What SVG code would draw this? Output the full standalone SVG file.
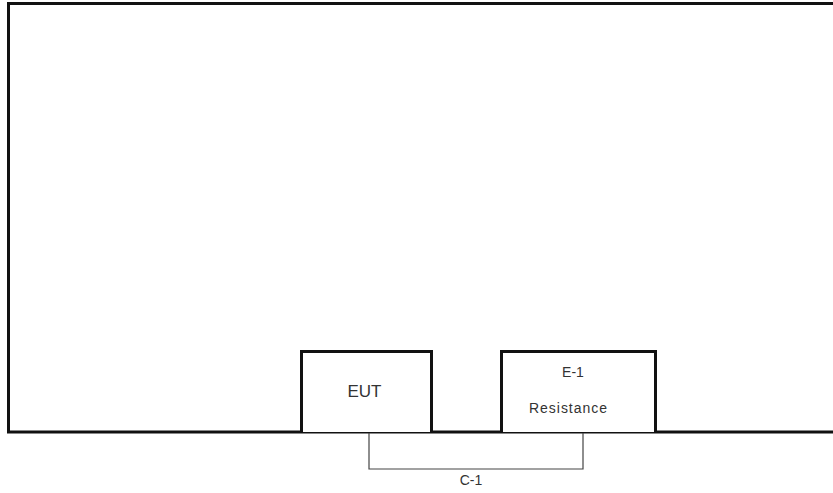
<svg xmlns="http://www.w3.org/2000/svg" width="833" height="493" viewBox="0 0 833 493">
  <style>
    .frame { fill: none; stroke: #111; stroke-width: 3; }
    .box { fill: #fff; stroke: #111; stroke-width: 3; }
    .wire { fill: none; stroke: #444; stroke-width: 1.2; }
    .lbl { font-family: "Liberation Sans", Arial, sans-serif; fill: #333; text-anchor: middle; }
  </style>
  <rect width="833" height="493" fill="#fff"/>

  <!-- outer enclosure: left wall, ceiling and ground plane -->
  <g id="enclosure">
    <path class="frame" d="M833 3.5 H8.5 V432 H833"/>
  </g>

  <!-- connectors -->
  <g id="connectors">
    <path class="wire" d="M369 433 V469 H583 V433"/>
  </g>

  <g id="eut">
    <path class="box" d="M301.5 432 V351.5 H431.5 V432"/>
    <text class="lbl" x="364.5" y="396.5" font-size="17">EUT</text>
  </g>

  <g id="e1">
    <path class="box" d="M501.5 432 V351.5 H655.5 V432"/>
    <text class="lbl" x="573" y="377" font-size="14">E-1</text>
    <text class="lbl" x="568" y="413" font-size="14" textLength="78" lengthAdjust="spacing">Resistance</text>
  </g>

  <g id="c1-label">
    <text class="lbl" x="471" y="484.5" font-size="14">C-1</text>
  </g>
</svg>
